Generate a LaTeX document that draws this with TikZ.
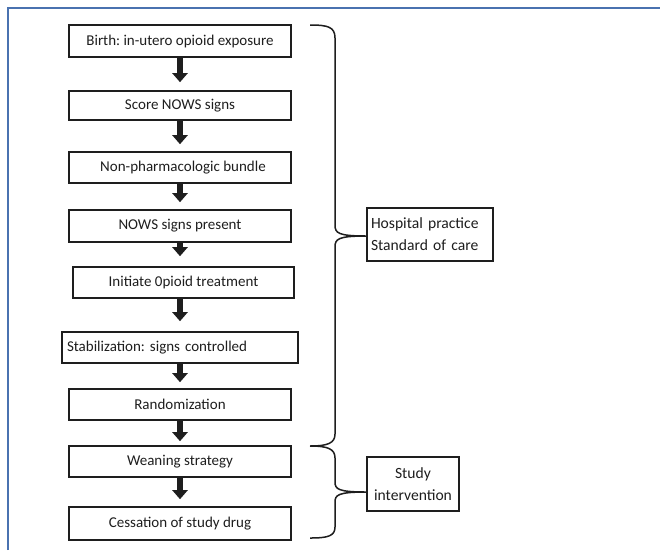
\documentclass[tikz,border=0pt]{standalone}
\usepackage{fontspec}
\setmainfont{Carlito}
\usetikzlibrary{arrows.meta}
\definecolor{frameblue}{RGB}{74,114,176}
\definecolor{ink}{RGB}{30,30,30}
\frenchspacing
\tikzset{
  stepbox/.style={draw=ink, line width=1.6pt, rectangle, inner sep=0pt, font=\fontsize{15}{17}\selectfont, text=ink},
  flowarrow/.style={draw=ink, line width=6pt, -{Triangle[width=15pt,length=9pt]}},
  bracebar/.style={draw=ink, line width=1.5pt},
  sidebox/.style={draw=ink, line width=1.5pt, rectangle, font=\fontsize{15.6}{22}\selectfont, text=ink}
}
\begin{document}
\begin{tikzpicture}[x=1pt,y=-1pt]
\useasboundingbox (0,0) rectangle (660,550);
\fill[white] (0,0) rectangle (660,550);
% frame
\draw[frameblue, line width=2pt] (8,550) -- (8,8) -- (660,8);
% boxes
\node[stepbox, minimum width=222pt, minimum height=32pt] (b1) at (180,41) {Birth: in-utero opioid exposure};
\node[stepbox, minimum width=222pt, minimum height=29pt] (b2) at (180,105.5) {Score NOWS signs};
\node[stepbox, minimum width=222pt, minimum height=31pt] (b3) at (180,167.5) {\hspace*{6pt}Non-pharmacologic bundle};
\node[stepbox, minimum width=222pt, minimum height=32pt] (b4) at (180,226) {NOWS signs present};
\node[stepbox, minimum width=221pt, minimum height=31pt] (b5) at (183.5,282.5) {Initiate 0pioid treatment};
\node[stepbox, minimum width=236pt, minimum height=31pt, text width=226pt, align=left] (b6) at (180,347.5) {Stabilization: signs controlled};
\node[stepbox, minimum width=222pt, minimum height=31pt] (b7) at (180,404.5) {Randomization};
\node[stepbox, minimum width=222pt, minimum height=31pt] (b8) at (180,461.5) {Weaning strategy};
\node[stepbox, minimum width=222pt, minimum height=33pt] (b9) at (180,523.5) {Cessation of study drug};
% arrows
\draw[flowarrow] (b1.south) -- ([yshift=8pt]b2.north);
\draw[flowarrow] (b2.south) -- ([yshift=7pt]b3.north);
\draw[flowarrow] (b3.south) -- ([yshift=7pt]b4.north);
\draw[flowarrow] (b4.south) -- ([yshift=10pt]b5.north-|b4.south);
\draw[flowarrow] (b5.south-|b4.south) -- ([yshift=10pt]b6.north);
\draw[flowarrow] (b6.south) -- ([yshift=6pt]b7.north);
\draw[flowarrow] (b7.south) -- ([yshift=4pt]b8.north);
\draw[flowarrow] (b8.south) -- ([yshift=7pt]b9.north);
% side boxes
\node[sidebox, minimum width=126pt, minimum height=53pt, text width=118pt, align=left, inner sep=4pt] (hosp) at (430,234.5) {Hospital practice\\Standard of care};
\node[sidebox, minimum width=92pt, minimum height=54pt, align=center, inner sep=3pt] (study) at (413,484) {Study\\intervention};
% braces
\coordinate (t1) at (310,25);
\coordinate (m1) at (hosp.west|-0,236);
\coordinate (t2) at (310,446);
\coordinate (m2) at (study.west|-0,492);
\coordinate (e2) at (310,538);
\draw[bracebar] (t1) .. controls (328,25) and (335,27) .. (335,38)
  -- (335,225) .. controls (335,233) and (338,236) .. (m1)
  (m1) .. controls (338,236) and (335,239) .. (335,247)
  -- (335,434) .. controls (335,443) and (328,446) .. (t2);
\draw[bracebar] (t2) .. controls (328,446) and (335,449) .. (335,458)
  -- (335,482) .. controls (335,489) and (338,492) .. (m2)
  (m2) .. controls (338,492) and (335,495) .. (335,502)
  -- (335,527) .. controls (335,536) and (328,538) .. (e2);
\end{tikzpicture}
\end{document}
